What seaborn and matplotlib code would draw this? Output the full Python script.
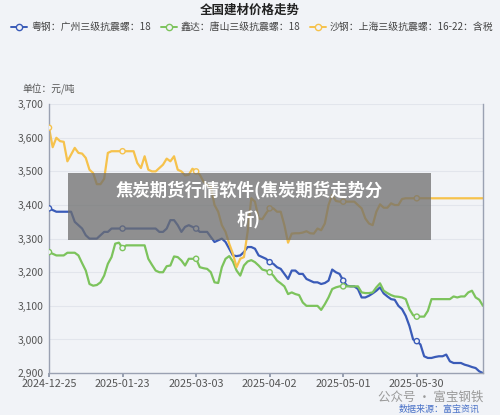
import numpy as np
import pandas as pd
import matplotlib
matplotlib.use("Agg")
import matplotlib.pyplot as plt
from matplotlib.lines import Line2D
from matplotlib.patches import Rectangle
import seaborn as sns

# ---------------- data ----------------
tick_labels = ["2024-12-25", "2025-01-23", "2025-03-03", "2025-04-02", "2025-05-01", "2025-05-30"]
tick_step = 20

series_names = ["粤钢：广州三级抗震螺：18", "鑫达：唐山三级抗震螺：18", "沙钢：上海三级抗震螺：16-22：含税"]

guangzhou = [3390, 3385, 3380, 3380, 3380, 3380, 3380, 3350, 3340, 3330,
             3310, 3300, 3300, 3300, 3310, 3320, 3320, 3330, 3330, 3330,
             3330, 3330, 3330, 3330, 3330, 3330, 3330, 3330, 3330, 3330,
             3320, 3320, 3330, 3355, 3355, 3340, 3320, 3335, 3340, 3335,
             3330, 3320, 3320, 3320, 3305, 3290, 3295, 3300, 3290, 3270,
             3250, 3248, 3250, 3260, 3275, 3275, 3270, 3250, 3245, 3240,
             3230, 3225, 3215, 3210, 3195, 3180, 3205, 3205, 3195, 3195,
             3180, 3175, 3170, 3170, 3165, 3168, 3175, 3208, 3200, 3195,
             3175, 3160, 3158, 3158, 3150, 3125, 3125, 3130, 3137, 3145,
             3155, 3137, 3128, 3120, 3118, 3100, 3090, 3070, 3040, 3000,
             2995, 2985, 2950, 2945, 2945, 2948, 2950, 2950, 2955, 2935,
             2930, 2930, 2930, 2925, 2922, 2918, 2915, 2905, 2900]

tangshan = [3260, 3255, 3250, 3250, 3250, 3258, 3258, 3258, 3250, 3227,
            3205, 3165, 3160, 3162, 3170, 3190, 3225, 3245, 3285, 3288,
            3272, 3280, 3280, 3280, 3280, 3280, 3280, 3240, 3222, 3205,
            3200, 3200, 3218, 3220, 3247, 3245, 3235, 3220, 3240, 3240,
            3240, 3215, 3212, 3210, 3200, 3170, 3168, 3215, 3240, 3248,
            3232, 3205, 3190, 3220, 3232, 3236, 3230, 3220, 3208, 3205,
            3200, 3190, 3175, 3167, 3158, 3135, 3140, 3135, 3132, 3110,
            3100, 3100, 3100, 3100, 3088, 3105, 3125, 3150, 3155, 3158,
            3158, 3158, 3158, 3158, 3158, 3140, 3138, 3138, 3140, 3155,
            3167, 3145, 3138, 3132, 3128, 3127, 3125, 3120, 3090, 3072,
            3068, 3068, 3068, 3085, 3120, 3120, 3120, 3120, 3120, 3120,
            3128, 3125, 3128, 3128, 3140, 3145, 3125, 3118, 3100]

shanghai = [3630, 3572, 3600, 3590, 3588, 3530, 3550, 3570, 3555, 3553,
            3540, 3505, 3495, 3462, 3462, 3478, 3555, 3560, 3560, 3560,
            3560, 3560, 3560, 3560, 3525, 3510, 3545, 3505, 3500, 3500,
            3510, 3520, 3538, 3530, 3545, 3505, 3500, 3488, 3490, 3508,
            3500, 3490, 3470, 3460, 3455, 3400, 3380, 3340, 3320, 3285,
            3255, 3215, 3240, 3245, 3320, 3420, 3410, 3360, 3358, 3375,
            3390, 3390, 3380, 3380, 3340, 3288, 3315, 3316, 3316, 3318,
            3322, 3316, 3315, 3330, 3325, 3345, 3400, 3430, 3412, 3410,
            3410, 3410, 3410, 3410, 3400, 3390, 3360, 3345, 3340, 3380,
            3402, 3392, 3392, 3405, 3400, 3400, 3418, 3420, 3420, 3420,
            3420, 3420, 3420, 3420, 3420, 3420, 3420, 3420, 3420, 3420,
            3420, 3420, 3420, 3420, 3420, 3420, 3420, 3420, 3420]

colors = ["#3a5bb8", "#7cc35c", "#f6c24c"]

# ---------------- build frame ----------------
frames = []
for name, vals in zip(series_names, [guangzhou, tangshan, shanghai]):
    frames.append(pd.DataFrame({"idx": np.arange(len(vals)), "price": vals, "series": name}))
df = pd.concat(frames, ignore_index=True)
palette = dict(zip(series_names, colors))

sns.set_theme(style="white")
plt.rcParams["font.family"] = ["Noto Sans CJK SC", "DejaVu Sans"]
plt.rcParams["axes.unicode_minus"] = False

bg = "#f1f3f7"
fig = plt.figure(figsize=(5.0, 4.15), dpi=100, facecolor=bg)
ax = fig.add_axes([0.098, 0.101, 0.868, 0.648])
ax.set_facecolor(bg)

sns.lineplot(data=df, x="idx", y="price", hue="series", palette=palette,
             linewidth=1.6, legend=False, ax=ax, sort=False)
mk = df[df["idx"] % tick_step == 0]
sns.scatterplot(data=mk, x="idx", y="price", hue="series", palette=palette,
                s=14, linewidth=1.0, legend=False, ax=ax, zorder=5)
# hollow markers: face to background, edge to series colour
for coll in ax.collections:
    fc = coll.get_facecolors()
    if len(fc):
        coll.set_edgecolors(fc)
        coll.set_facecolors(bg)

n = len(guangzhou)
ax.set_xlim(0, n - 1)
ax.set_ylim(2900, 3700)
ax.set_yticks(np.arange(2900, 3701, 100))
ax.set_yticklabels([f"{v:,}" for v in range(2900, 3701, 100)], fontsize=7.5, color="#555555")
ax.set_xticks([i * tick_step for i in range(len(tick_labels))])
ax.set_xticklabels(tick_labels, fontsize=7.8, color="#555555")
ax.tick_params(axis="x", length=3, color="#8a93a6", pad=1.5, bottom=True)
ax.tick_params(axis="y", length=0, pad=4)
ax.grid(axis="y", color="#e2e5ec", linewidth=0.8)
ax.grid(axis="x", visible=False)
for side in ["left", "bottom", "right"]:
    ax.spines[side].set_visible(True)
    ax.spines[side].set_color("#9aa1b2")
    ax.spines[side].set_linewidth(1.0)
ax.spines["top"].set_visible(False)
ax.set_xlabel("")
ax.set_ylabel("")

# title and legend
fig.text(0.5, 1 - 10 / 415, "全国建材价格走势", ha="center", va="center",
         fontsize=9, fontweight="bold", color="#222222")
handles = [Line2D([0], [0], color=c, lw=1.4, marker="o", markersize=4.5,
                  markerfacecolor=bg, markeredgecolor=c, markeredgewidth=1.0)
           for c in colors]
fig.legend(handles, series_names, loc="center", bbox_to_anchor=(0.505, 1 - 27 / 415),
           ncol=3, frameon=False, fontsize=7.1, handlelength=1.6, handletextpad=0.4,
           columnspacing=1.0, labelcolor="#444444")
fig.text(22 / 500, 1 - 89 / 415, "单位：元/吨", ha="left", va="center", fontsize=7, color="#555555")

# overlay banner
fig.patches.append(Rectangle((68 / 500, 1 - 240 / 415), (431 - 68) / 500, (240 - 173) / 415,
                             transform=fig.transFigure, facecolor="#6e6e6e", alpha=0.75,
                             edgecolor="none", zorder=10))
fig.text(249 / 500, 1 - 190 / 415, "焦炭期货行情软件(焦炭期货走势分", ha="center", va="center",
         fontsize=12.5, fontweight="bold", color="white", zorder=11)
fig.text(249 / 500, 1 - 219 / 415, "析)", ha="center", va="center",
         fontsize=12.5, fontweight="bold", color="white", zorder=11)

# watermarks
fig.text(483 / 500, 1 - 397 / 415, "公众号 · 富宝钢铁", ha="right", va="center",
         fontsize=9, color="#9a9a9a", zorder=11)
fig.text(480 / 500, 1 - 409 / 415, "数据来源：富宝资讯", ha="right", va="center",
         fontsize=6.5, color="#4a72c8", zorder=11)

fig.savefig("out.png", dpi=100, facecolor=bg)
